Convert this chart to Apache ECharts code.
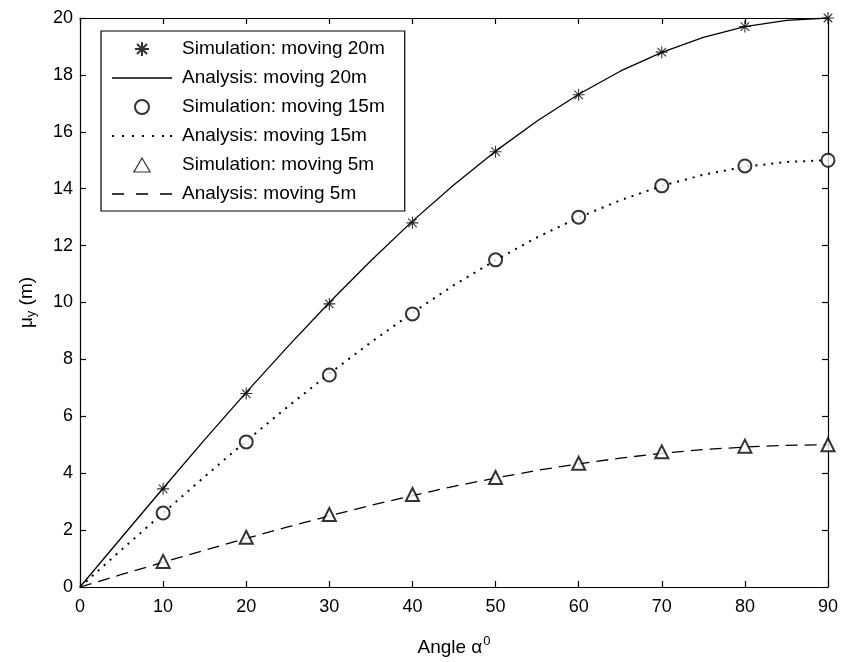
<!DOCTYPE html>
<html>
<head>
<meta charset="utf-8">
<script src="https://cdn.jsdelivr.net/npm/echarts@6/dist/echarts.min.js"></script>
<style>
  html, body { margin: 0; padding: 0; background: #fff; }
  #chart { width: 843px; height: 662px; }
</style>
</head>
<body>
<div id="chart"></div>
<script>
// Angles (degrees) of the simulated points
const simAngles = [10, 20, 30, 40, 50, 60, 70, 80, 90];
// Simulated mean displacement (m)
const sim20 = [3.45, 6.8, 9.95, 12.8, 15.3, 17.3, 18.8, 19.7, 20.0];
const sim15 = [2.6, 5.1, 7.45, 9.6, 11.5, 13.0, 14.1, 14.8, 15.0];
const sim5  = [0.9, 1.75, 2.55, 3.25, 3.85, 4.35, 4.75, 4.95, 5.0];

// Analytical curves, sampled every 5 degrees
const anaAngles = [0, 5, 10, 15, 20, 25, 30, 35, 40, 45, 50, 55, 60, 65, 70, 75, 80, 85, 90];
const ana20 = [0, 1.74, 3.47, 5.18, 6.84, 8.45, 10.0, 11.47, 12.86, 14.14, 15.32, 16.38, 17.32, 18.13, 18.79, 19.32, 19.70, 19.92, 20.0];
const ana15 = [0, 1.31, 2.60, 3.88, 5.13, 6.34, 7.5, 8.6, 9.64, 10.61, 11.49, 12.29, 12.99, 13.59, 14.10, 14.49, 14.77, 14.94, 15.0];
const ana5  = [0, 0.44, 0.87, 1.29, 1.71, 2.11, 2.5, 2.87, 3.21, 3.54, 3.83, 4.10, 4.33, 4.53, 4.70, 4.83, 4.92, 4.98, 5.0];

const seriesNames = [
  'Simulation: moving 20m', 'Analysis: moving 20m',
  'Simulation: moving 15m', 'Analysis: moving 15m',
  'Simulation: moving 5m', 'Analysis: moving 5m'
];

const FONT = '"Liberation Sans", Arial, Helvetica, sans-serif';

// Marker and legend glyphs
const asterisk = 'path://M10 0 V20 M0 10 H20 M2.9 2.9 L17.1 17.1 M17.1 2.9 L2.9 17.1';
const triangleIcon = 'path://M6 0 L12 10.4 L0 10.4 Z';
const solidIcon = 'path://M0 0 h60 v1.4 h-60 Z';
const dottedIcon = 'path://' + [0, 10, 20, 30, 40, 50, 58].map(x => `M${x} 0 h2 v2 h-2 Z`).join(' ');
const dashedIcon = 'path://M0 0 h12 v1.4 h-12 Z M24 0 h12 v1.4 h-12 Z M48 0 h12 v1.4 h-12 Z';

const pairs = (xs, ys) => xs.map((x, i) => [x, ys[i]]);

const chart = echarts.init(document.getElementById('chart'), null, { renderer: 'canvas' });

const tickCommon = () => ({
  axisLine: { show: true, onZero: false, lineStyle: { color: '#000', width: 1.2 } },
  axisTick: { show: true, inside: true, length: 6, lineStyle: { color: '#000', width: 1.2 } },
  splitLine: { show: false }
});

const option = {
  backgroundColor: '#fff',
  animation: false,
  grid: { left: 80, right: 15, top: 18, bottom: 67 },
  legend: {
    orient: 'vertical',
    left: 101, top: 31,
    backgroundColor: '#fff',
    borderColor: '#000', borderWidth: 1.2,
    padding: [8, 20, 7, 11],
    itemWidth: 60, itemHeight: 14, itemGap: 9,
    symbolKeepAspect: true,
    textStyle: { fontFamily: FONT, fontSize: 19, lineHeight: 20, color: '#000', padding: [0, 0, 0, 5] },
    data: [
      { name: seriesNames[0] },
      { name: seriesNames[1], icon: solidIcon },
      { name: seriesNames[2] },
      { name: seriesNames[3], icon: dottedIcon },
      { name: seriesNames[4], icon: triangleIcon, itemStyle: { color: '#fff', borderColor: '#000', borderWidth: 1.2 } },
      { name: seriesNames[5], icon: dashedIcon }
    ]
  },
  xAxis: [
    Object.assign({
      type: 'value', min: 0, max: 90, interval: 10, position: 'bottom',
      axisLabel: { color: '#000', fontFamily: FONT, fontSize: 18, margin: 11 },
      name: '{n|Angle α}{s|0}', nameLocation: 'middle', nameGap: 48,
      nameTextStyle: {
        rich: {
          n: { fontFamily: FONT, fontSize: 19, color: '#000' },
          s: { fontFamily: FONT, fontSize: 13, color: '#000', verticalAlign: 'top', padding: [0, 0, 12, 1] }
        }
      }
    }, tickCommon()),
    Object.assign({
      type: 'value', min: 0, max: 90, interval: 10, position: 'top',
      axisLabel: { show: false }
    }, tickCommon())
  ],
  yAxis: [
    Object.assign({
      type: 'value', min: 0, max: 20, interval: 2, position: 'left',
      axisLabel: { color: '#000', fontFamily: FONT, fontSize: 18, margin: 7 },
      name: '{n|μ}{s|y}{n| (m)}', nameLocation: 'middle', nameGap: 42, nameRotate: 90,
      nameTextStyle: {
        rich: {
          n: { fontFamily: FONT, fontSize: 19, color: '#000' },
          s: { fontFamily: FONT, fontSize: 13, color: '#000', padding: [9, 0, 0, 0] }
        }
      }
    }, tickCommon()),
    Object.assign({
      type: 'value', min: 0, max: 20, interval: 2, position: 'right',
      axisLabel: { show: false }
    }, tickCommon())
  ],
  series: [
    {
      name: seriesNames[0], type: 'scatter', data: pairs(simAngles, sim20),
      symbol: asterisk, symbolSize: 12,
      itemStyle: { color: 'rgba(0,0,0,0)', borderColor: '#000', borderWidth: 1.1 },
      z: 5
    },
    {
      name: seriesNames[1], type: 'line', data: pairs(anaAngles, ana20),
      showSymbol: false, symbol: 'none',
      lineStyle: { color: '#000', width: 1.3, type: 'solid' },
      itemStyle: { color: '#000' }
    },
    {
      name: seriesNames[2], type: 'scatter', data: pairs(simAngles, sim15),
      symbol: 'emptyCircle', symbolSize: 13,
      itemStyle: { color: '#000', borderColor: '#000', borderWidth: 1.2 },
      z: 5
    },
    {
      name: seriesNames[3], type: 'line', data: pairs(anaAngles, ana15),
      showSymbol: false, symbol: 'none',
      lineStyle: { color: '#000', width: 2, type: [2, 6] },
      itemStyle: { color: '#000' }
    },
    {
      name: seriesNames[4], type: 'scatter', data: pairs(simAngles, sim5),
      symbol: 'emptyTriangle', symbolSize: 13,
      itemStyle: { color: '#000', borderColor: '#000', borderWidth: 1.2 },
      z: 5
    },
    {
      name: seriesNames[5], type: 'line', data: pairs(anaAngles, ana5),
      showSymbol: false, symbol: 'none',
      lineStyle: { color: '#000', width: 1.3, type: [12, 7] },
      itemStyle: { color: '#000' }
    }
  ]
};

chart.setOption(option);
</script>
</body>
</html>
